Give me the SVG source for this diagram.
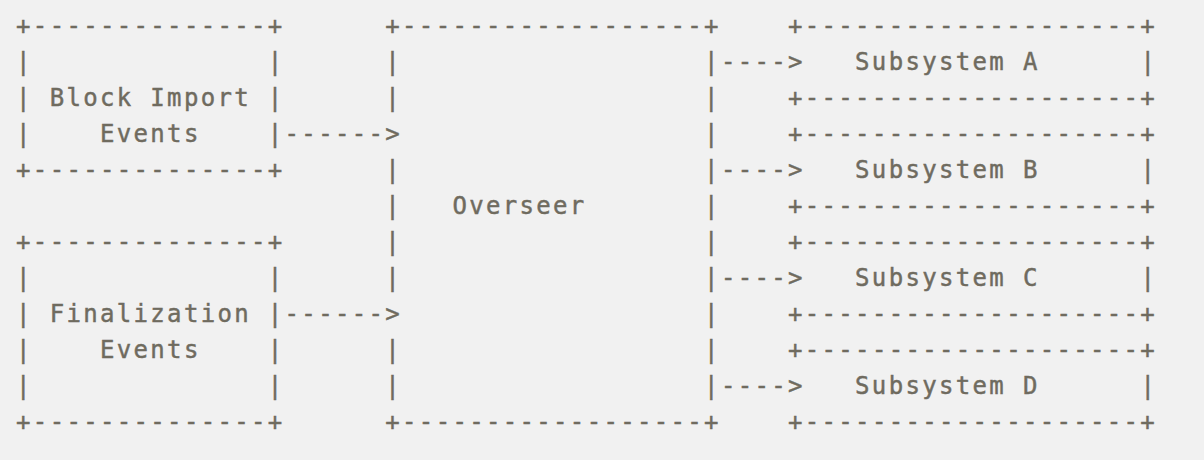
<svg xmlns="http://www.w3.org/2000/svg" width="1204" height="460" viewBox="0 0 1204 460">
<style>
text{font-family:"DejaVu Sans Mono","Liberation Mono",monospace;font-size:24px;letter-spacing:2.33px;fill:#6f6b5f;stroke:#6f6b5f;stroke-width:0.45px;white-space:pre}
</style>
<rect width="1204" height="460" fill="#f1f1f1"/>
<g transform="translate(-0.3,1.5)">
<g id="block-import">
<text x="16.4" y="32.5">+--------------+</text>
<text x="16.4" y="68.5">|</text><text x="268.1" y="68.5">|</text>
<text x="16.4" y="104.5">| Block Import |</text>
<text x="16.4" y="140.5">|</text><text x="100.3" y="140.5">Events</text><text x="268.1" y="140.5">|</text>
<text x="16.4" y="176.5">+--------------+</text>
</g>
<g id="finalization">
<text x="16.4" y="248.5">+--------------+</text>
<text x="16.4" y="284.5">|</text><text x="268.1" y="284.5">|</text>
<text x="16.4" y="320.5">| Finalization |</text>
<text x="16.4" y="356.5">|</text><text x="100.3" y="356.5">Events</text><text x="268.1" y="356.5">|</text>
<text x="16.4" y="392.5">|</text><text x="268.1" y="392.5">|</text>
<text x="16.4" y="428.5">+--------------+</text>
</g>
<g id="overseer">
<text x="385.6" y="32.5">+------------------+</text>
<text x="385.6" y="68.5">|</text>
<text x="385.6" y="104.5">|</text>
<text x="385.6" y="176.5">|</text>
<text x="385.6" y="212.5">|</text>
<text x="385.6" y="248.5">|</text>
<text x="385.6" y="284.5">|</text>
<text x="385.6" y="356.5">|</text>
<text x="385.6" y="392.5">|</text>
<text x="452.7" y="212.5">Overseer</text>
<text x="704.4" y="68.5">|</text>
<text x="704.4" y="104.5">|</text>
<text x="704.4" y="140.5">|</text>
<text x="704.4" y="176.5">|</text>
<text x="704.4" y="212.5">|</text>
<text x="704.4" y="248.5">|</text>
<text x="704.4" y="284.5">|</text>
<text x="704.4" y="320.5">|</text>
<text x="704.4" y="356.5">|</text>
<text x="704.4" y="392.5">|</text>
<text x="385.6" y="428.5">+------------------+</text>
</g>
<g id="subsystem-a">
<text x="788.3" y="32.5">+--------------------+</text>
<text x="855.4" y="68.5">Subsystem A</text><text x="1140.7" y="68.5">|</text>
<text x="788.3" y="104.5">+--------------------+</text>
</g>
<g id="subsystem-b">
<text x="788.3" y="140.5">+--------------------+</text>
<text x="855.4" y="176.5">Subsystem B</text><text x="1140.7" y="176.5">|</text>
<text x="788.3" y="212.5">+--------------------+</text>
</g>
<g id="subsystem-c">
<text x="788.3" y="248.5">+--------------------+</text>
<text x="855.4" y="284.5">Subsystem C</text><text x="1140.7" y="284.5">|</text>
<text x="788.3" y="320.5">+--------------------+</text>
</g>
<g id="subsystem-d">
<text x="788.3" y="356.5">+--------------------+</text>
<text x="855.4" y="392.5">Subsystem D</text><text x="1140.7" y="392.5">|</text>
<text x="788.3" y="428.5">+--------------------+</text>
</g>
<g id="connectors">
<text x="284.9" y="140.5">------&gt;</text>
<text x="284.9" y="320.5">------&gt;</text>
<text x="721.2" y="68.5">----&gt;</text>
<text x="721.2" y="176.5">----&gt;</text>
<text x="721.2" y="284.5">----&gt;</text>
<text x="721.2" y="392.5">----&gt;</text>
</g>
</g>
</svg>
